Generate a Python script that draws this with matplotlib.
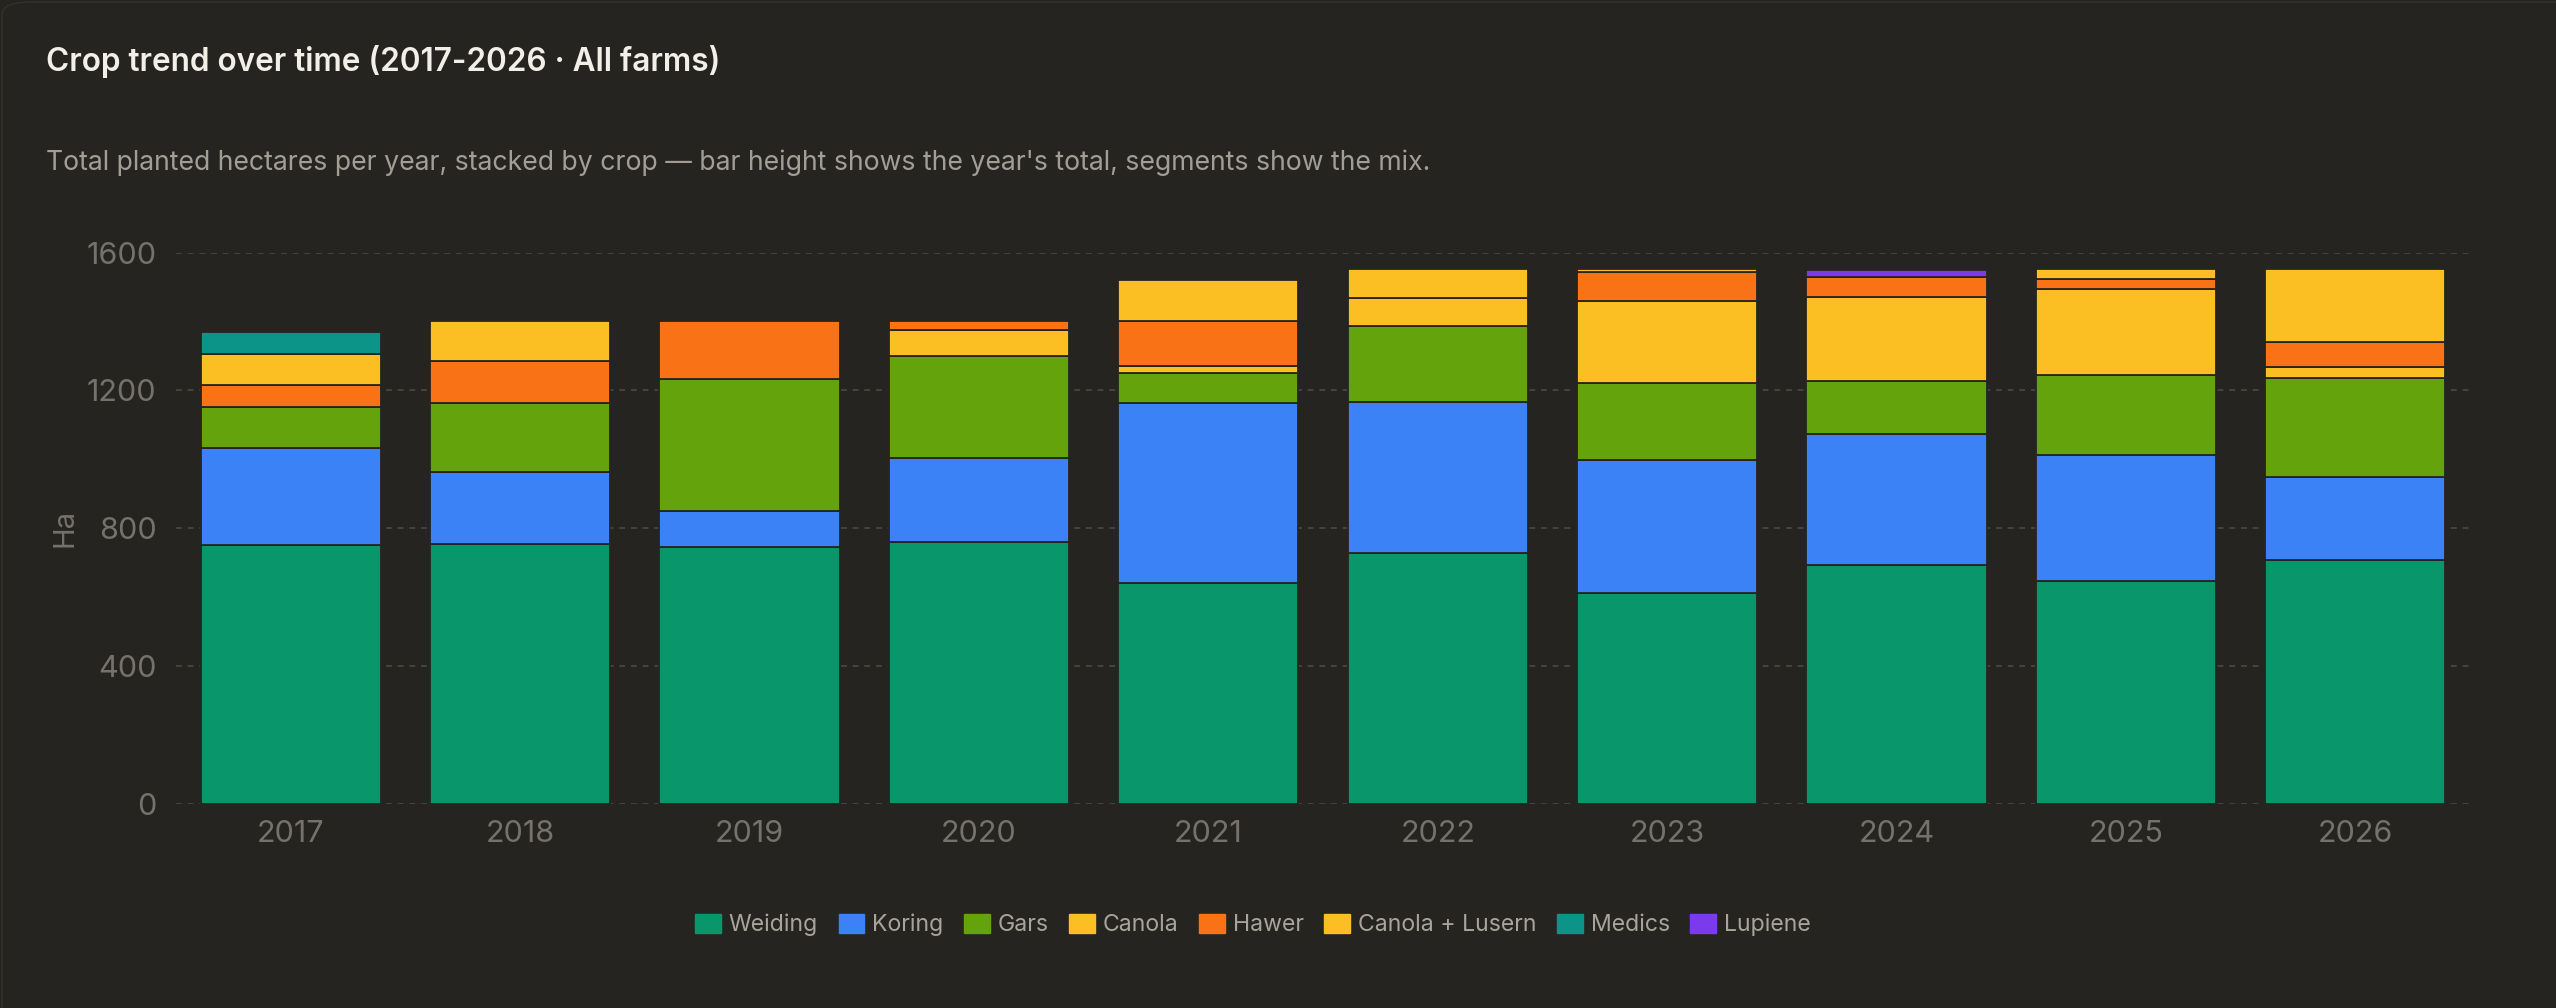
import matplotlib.pyplot as plt
import numpy as np
from matplotlib.patches import Patch, FancyBboxPatch

# data (hectares)
years = [2017, 2018, 2019, 2020, 2021, 2022, 2023, 2024, 2025, 2026]
weiding = [752, 753, 744, 760, 642, 729, 612, 693, 646, 707]
koring = [282, 211, 107, 244, 522, 437, 386, 381, 367, 242]
gars = [118, 201, 382, 295, 88, 221, 224, 154, 233, 288]
canola = [0, 0, 0, 76, 19, 81, 237, 242, 248, 32]
hawer = [63, 120, 168, 26, 131, 0, 86, 59, 29, 72]
canola_lusern = [91, 116, 0, 0, 119, 85, 8, 0, 30, 212]
medics = [64, 0, 0, 0, 0, 0, 0, 0, 0, 0]
lupiene = [0, 0, 0, 0, 0, 0, 0, 22, 0, 0]

crops = ["Weiding", "Koring", "Gars", "Canola", "Hawer", "Canola + Lusern", "Medics", "Lupiene"]
series = [weiding, koring, gars, canola, hawer, canola_lusern, medics, lupiene]
colors = ["#08966a", "#3b82f6", "#65a30d", "#fbbf24", "#f97316", "#fbbf24", "#0d9488", "#7c3aed"]

BG = "#252420"
FONT = ["Inter", "DejaVu Sans"]

plt.rcParams.update({
    "font.family": FONT,
    "figure.facecolor": BG,
    "axes.facecolor": BG,
})

fig = plt.figure(figsize=(25.56, 10.08), dpi=100)

# card: only the top-left rounded corner shows inside the picture
card = FancyBboxPatch((0.0008, -0.2), 1.3, 1.198,
                      boxstyle="round,pad=0,rounding_size=0.012",
                      transform=fig.transFigure, facecolor=BG,
                      edgecolor="#33322d", linewidth=1.0, zorder=-10)
fig.patches.append(card)

fig.text(46 / 2556, 1 - 62 / 1008, "Crop trend over time (2017-2026 · All farms)",
         fontsize=22.7, fontweight="semibold", color="#f2efe8", va="center", ha="left")
fig.text(46 / 2556, 1 - 163 / 1008,
         "Total planted hectares per year, stacked by crop — bar height shows the year's total, segments show the mix.",
         fontsize=19.2, color="#a29e96", va="center", ha="left")

ax = fig.add_axes([176 / 2556, 1 - 803.7 / 1008, (2470 - 176) / 2556, (803.7 - 252.7) / 1008])

x = np.arange(len(years))
bottom = np.zeros(len(years))
for name, vals, col in zip(crops, series, colors):
    vals = np.array(vals, dtype=float)
    keep = vals > 0
    ax.bar(x[keep], vals[keep], bottom=bottom[keep], width=0.785, color=col,
           edgecolor=BG, linewidth=1.3, zorder=3)
    bottom += vals

ax.set_xlim(-0.5, len(years) - 0.5)
ax.set_ylim(0, 1600)
ax.set_yticks([0, 400, 800, 1200, 1600])
ax.set_xticks(x)
ax.set_xticklabels([str(y) for y in years])
ax.grid(axis="y", color="#4c4a45", linestyle=(0, (3.5, 3.5)), linewidth=1.2, zorder=0)
ax.set_axisbelow(True)
for s in ax.spines.values():
    s.set_visible(False)
ax.tick_params(axis="both", length=0, labelsize=22, labelcolor="#75726c")
ax.tick_params(axis="y", pad=14)
ax.tick_params(axis="x", pad=12)
ax.set_ylabel("Ha", fontsize=21, color="#75726c", labelpad=6)

handles = [Patch(facecolor=c, edgecolor=c, label=n) for n, c in zip(crops, colors)]
leg = fig.legend(handles=handles, loc="center", bbox_to_anchor=(1253 / 2556, 1 - 925 / 1008),
                 ncol=8, frameon=False, fontsize=16.6, handlelength=1.1, handleheight=0.9,
                 handletextpad=0.35, columnspacing=0.9, labelcolor="#a8a49c")

fig.savefig("out.png", dpi=100, facecolor=BG)
